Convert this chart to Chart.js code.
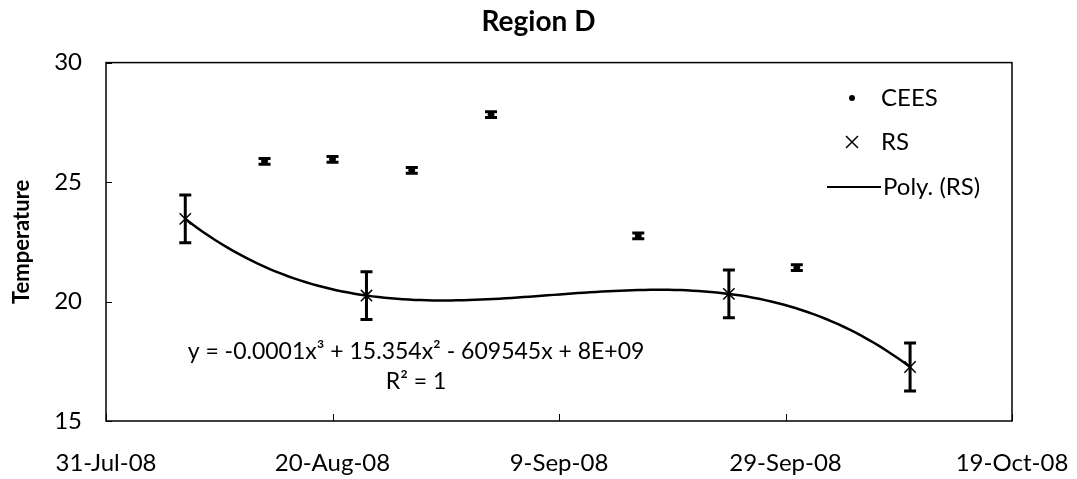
<!DOCTYPE html>
<html>
<head>
<meta charset="utf-8">
<script src="https://cdn.jsdelivr.net/npm/chart.js@4/dist/chart.umd.min.js"></script>
<style>
  html, body { margin: 0; padding: 0; background: #fff; }
  #wrap { width: 1077px; height: 479px; }
</style>
</head>
<body>
<div id="wrap"><canvas id="chart"></canvas></div>
<script>
// axis ticks and series
var xTicks = ['31-Jul-08', '20-Aug-08', '9-Sep-08', '29-Sep-08', '19-Oct-08'];
var yTicks = [15, 20, 25, 30];

var ceesDates = ['14-Aug-08', '20-Aug-08', '27-Aug-08', '3-Sep-08', '16-Sep-08', '30-Sep-08'];
var ceesTemp = [25.87, 25.95, 25.49, 27.82, 22.75, 21.42];
var ceesErr = [0.12, 0.12, 0.12, 0.12, 0.12, 0.12];

var rsDates = ['7-Aug-08', '23-Aug-08', '24-Sep-08', '10-Oct-08'];
var rsTemp = [23.46, 20.25, 20.32, 17.26];
var rsErr = [1, 1, 1, 1];

var FONT = 'Lato, "Liberation Sans", sans-serif';
var MONTHS = ['Jan', 'Feb', 'Mar', 'Apr', 'May', 'Jun', 'Jul', 'Aug', 'Sep', 'Oct', 'Nov', 'Dec'];

function toDay(s) {
    var p = s.split('-');
    return Date.UTC(2000 + Number(p[2]), MONTHS.indexOf(p[1]), Number(p[0])) / 864e5;
}
var day0 = toDay(xTicks[0]);
function dayOf(s) { return toDay(s) - day0; }

function points(dates, vals) {
    return dates.map(function(d, i) { return { x: dayOf(d), y: vals[i] }; });
}

// least squares polynomial fit, returns coefficients c0..cn
function polyfit(xs, ys, n) {
    var m = n + 1, A = [], i, j, k;
    for (i = 0; i < m; i++) {
        A.push([]);
        for (j = 0; j < m; j++) {
            var s = 0;
            for (k = 0; k < xs.length; k++) s += Math.pow(xs[k], i + j);
            A[i].push(s);
        }
        var b = 0;
        for (k = 0; k < xs.length; k++) b += ys[k] * Math.pow(xs[k], i);
        A[i].push(b);
    }
    for (i = 0; i < m; i++) {
        var piv = i;
        for (j = i + 1; j < m; j++) if (Math.abs(A[j][i]) > Math.abs(A[piv][i])) piv = j;
        var t = A[i]; A[i] = A[piv]; A[piv] = t;
        for (j = i + 1; j < m; j++) {
            var f = A[j][i] / A[i][i];
            for (k = i; k <= m; k++) A[j][k] -= f * A[i][k];
        }
    }
    var c = new Array(m);
    for (i = m - 1; i >= 0; i--) {
        var v = A[i][m];
        for (j = i + 1; j < m; j++) v -= A[i][j] * c[j];
        c[i] = v / A[i][i];
    }
    return c;
}

var rsPts = points(rsDates, rsTemp);
var coef = polyfit(rsPts.map(function(p) { return p.x; }), rsTemp, 3);
var trend = [];
(function() {
    var a = rsPts[0].x, b = rsPts[rsPts.length - 1].x, steps = 120;
    for (var i = 0; i <= steps; i++) {
        var x = a + (b - a) * i / steps;
        trend.push({ x: x, y: coef[0] + coef[1] * x + coef[2] * x * x + coef[3] * x * x * x });
    }
})();

var errorBars = {
    id: 'errorBars',
    afterDatasetsDraw: function(chart) {
        var ctx = chart.ctx, xs = chart.scales.x, ys = chart.scales.y;
        function draw(dates, vals, errs, cap) {
            ctx.save();
            ctx.strokeStyle = '#000';
            ctx.lineWidth = 3;
            dates.forEach(function(d, i) {
                var px = xs.getPixelForValue(dayOf(d));
                var top = ys.getPixelForValue(vals[i] + errs[i]);
                var bot = ys.getPixelForValue(vals[i] - errs[i]);
                ctx.beginPath();
                ctx.moveTo(px, top); ctx.lineTo(px, bot);
                ctx.moveTo(px - cap, top); ctx.lineTo(px + cap, top);
                ctx.moveTo(px - cap, bot); ctx.lineTo(px + cap, bot);
                ctx.stroke();
            });
            ctx.restore();
        }
        draw(ceesDates, ceesTemp, ceesErr, 6);
        draw(rsDates, rsTemp, rsErr, 6);
    },
    afterDraw: function(chart) {
        var ctx = chart.ctx, a = chart.chartArea, xs = chart.scales.x, ys = chart.scales.y;
        ctx.save();
        // plot frame with inward tick marks
        ctx.strokeStyle = '#000';
        ctx.lineWidth = 1.5;
        ctx.strokeRect(a.left, a.top, a.right - a.left, a.bottom - a.top);
        ctx.lineWidth = 1;
        ctx.beginPath();
        yTicks.forEach(function(v) {
            var py = Math.round(ys.getPixelForValue(v)) + 0.5;
            ctx.moveTo(a.left, py); ctx.lineTo(a.left + 6, py);
        });
        xTicks.forEach(function(t) {
            var px = Math.round(xs.getPixelForValue(dayOf(t))) + 0.5;
            ctx.moveTo(px, a.bottom); ctx.lineTo(px, a.bottom - 7);
        });
        ctx.stroke();

        // legend
        ctx.fillStyle = '#000';
        ctx.font = '24px ' + FONT;
        ctx.textBaseline = 'middle';
        ctx.textAlign = 'left';
        ctx.beginPath();
        ctx.arc(852, 98, 3, 0, Math.PI * 2);
        ctx.fill();
        ctx.fillText(chart.data.datasets[0].label, 881, 98);
        ctx.lineWidth = 1.5;
        ctx.beginPath();
        ctx.moveTo(846, 136); ctx.lineTo(858, 148);
        ctx.moveTo(858, 136); ctx.lineTo(846, 148);
        ctx.stroke();
        ctx.fillText(chart.data.datasets[1].label, 881, 142);
        ctx.lineWidth = 2;
        ctx.beginPath();
        ctx.moveTo(827, 187); ctx.lineTo(881, 187);
        ctx.stroke();
        ctx.fillText(chart.data.datasets[2].label, 883, 187);

        // trendline equation
        ctx.font = '23px ' + FONT;
        ctx.textAlign = 'center';
        ctx.fillText('y = -0.0001x\u00b3 + 15.354x\u00b2 - 609545x + 8E+09', 416, 352);
        ctx.fillText('R\u00b2 = 1', 416, 382);
        ctx.restore();
    }
};

new Chart(document.getElementById('chart'), {
    type: 'scatter',
    data: {
        datasets: [{
            label: 'CEES',
            data: points(ceesDates, ceesTemp),
            pointStyle: 'circle',
            pointRadius: 3,
            backgroundColor: '#000',
            borderColor: '#000'
        }, {
            label: 'RS',
            data: rsPts,
            pointStyle: 'crossRot',
            pointRadius: 8,
            borderWidth: 1.5,
            borderColor: '#000'
        }, {
            label: 'Poly. (RS)',
            type: 'line',
            data: trend,
            showLine: true,
            pointRadius: 0,
            borderWidth: 2.5,
            borderColor: '#000',
            tension: 0
        }]
    },
    options: {
        responsive: true,
        maintainAspectRatio: false,
        animation: false,
        events: [],
        layout: { padding: 0 },
        plugins: {
            legend: { display: false },
            tooltip: { enabled: false },
            title: {
                display: true,
                text: 'Region D',
                color: '#000',
                font: { family: FONT, size: 28, weight: 'bold', lineHeight: 1.2 },
                padding: { top: 5, bottom: 24 }
            }
        },
        scales: {
            x: {
                type: 'linear',
                min: 0,
                max: dayOf(xTicks[xTicks.length - 1]),
                afterBuildTicks: function(scale) {
                    scale.ticks = xTicks.map(function(t) { return { value: dayOf(t) }; });
                },
                afterFit: function(scale) {
                    scale.height = 58;
                    scale.paddingLeft = 0;
                    scale.paddingRight = 65;
                },
                grid: { display: false, drawTicks: false },
                border: { display: false },
                ticks: {
                    color: '#000',
                    padding: 28,
                    maxRotation: 0,
                    font: { family: FONT, size: 24 },
                    callback: function(v, i) { return xTicks[i]; }
                }
            },
            y: {
                min: yTicks[0],
                max: yTicks[yTicks.length - 1],
                afterBuildTicks: function(scale) {
                    scale.ticks = yTicks.map(function(v) { return { value: v }; });
                },
                afterFit: function(scale) {
                    scale.width = 106;
                    scale.paddingTop = 0;
                    scale.paddingBottom = 0;
                },
                grid: { display: false, drawTicks: false },
                border: { display: false },
                ticks: {
                    color: '#000',
                    padding: 24,
                    font: { family: FONT, size: 24 }
                },
                title: {
                    display: true,
                    text: 'Temperature',
                    color: '#000',
                    font: { family: FONT, size: 22, weight: 'bold' },
                    padding: { top: 9, bottom: 0 }
                }
            }
        }
    },
    plugins: [errorBars]
});
</script>
</body>
</html>
